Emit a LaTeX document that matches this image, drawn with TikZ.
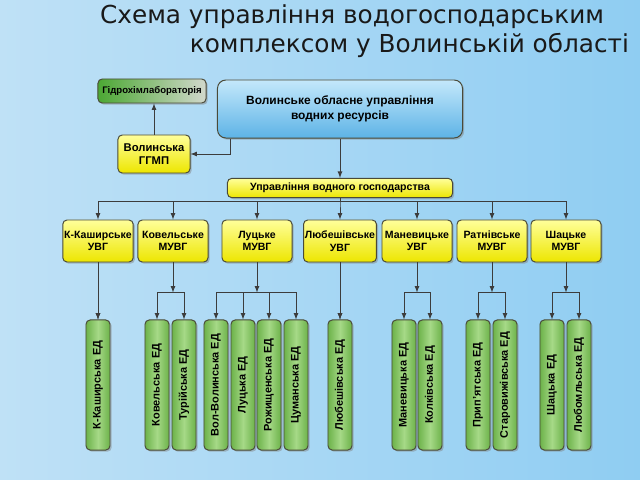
\documentclass[tikz,border=0pt]{standalone}
\usepackage{fontspec}
\setmainfont{Liberation Sans}
\newfontfamily\titlefont{DejaVu Sans}
\usetikzlibrary{calc,shadows}

\definecolor{bgL}{HTML}{BFE1F6}
\definecolor{bgR}{HTML}{8FCDF2}
\definecolor{edge}{HTML}{4A4A38}
\definecolor{arrgray}{HTML}{3C3C3C}
\definecolor{yelTop}{HTML}{FFFF9A}
\definecolor{yelBot}{HTML}{EDE600}
\definecolor{grnLight}{HTML}{A6D987}
\definecolor{grnDark}{HTML}{6CB24A}
\definecolor{bluTop}{HTML}{C4E8FB}
\definecolor{bluBot}{HTML}{5DB3E6}
\definecolor{hidL}{HTML}{4CA834}
\definecolor{hidR}{HTML}{D2D8CC}

\tikzset{
  box/.style={draw=edge, line width=0.7pt, rounded corners=3pt,
    inner sep=1pt, font=\bfseries\fontsize{7.5}{8.8}\selectfont,
    drop shadow={shadow xshift=1.2pt, shadow yshift=-1.2pt, opacity=0.45}},
  uvgbox/.style={box, align=center, top color=yelTop, bottom color=yelBot,
    minimum width=1.75cm, minimum height=1.05cm},
  edbox/.style={box, left color=grnDark, right color=grnDark, middle color=grnLight,
    minimum width=0.6cm, minimum height=3.25cm, font=\bfseries\fontsize{7.8}{9}\selectfont},
  arr/.style={draw=arrgray, line width=0.6pt, -latex},
}

\begin{document}
\begin{tikzpicture}[x=0.025cm,y=-0.025cm]
\useasboundingbox (0,0) rectangle (640,480);
\shade[left color=bgL, middle color=white, right color=bgR] (0,0) rectangle (640,480);

% title
\node[anchor=east, font=\titlefont\fontsize{17.6}{19}\selectfont, text=black!90] (t1) at (609,17) {Схема управління водогосподарським};
\node[anchor=east, font=\titlefont\fontsize{17.6}{19}\selectfont, text=black!90] (t2) at (634,45) {комплексом у Волинській області};

% top part
\node[box, left color=hidL, right color=hidR, minimum width=2.7cm, minimum height=0.6cm,
  font=\bfseries\fontsize{6.8}{8}\selectfont] (hidro) at (152,91) {Гідрохімлабораторія};
\node[box, align=center, top color=bluTop, bottom color=bluBot, rounded corners=6pt, minimum width=6.125cm, minimum height=1.45cm,
  font=\bfseries\fontsize{8.5}{10.5}\selectfont] (main) at (340,109) {Волинське обласне управління\\водних ресурсів};
\node[uvgbox, minimum width=1.8cm, minimum height=0.95cm, font=\bfseries\fontsize{8}{9.5}\selectfont] (ggmp) at (154,154) {Волинська\\ГГМП};
\node[uvgbox, minimum width=5.625cm, minimum height=0.48cm] (upr) at (340,188) {Управління водного господарства};

\draw[arr] (ggmp.north) -- (ggmp.north |- hidro.south);
\draw[arr] ($(main.south west)+(13,0)$) |- (ggmp.east);
\draw[arr] (main.south) -- (upr.north);

% middle row
\foreach \x/\n/\a/\b in {98/m1/К-Каширське/УВГ, 173/m2/Ковельське/МУВГ, 257/m3/Луцьке/МУВГ,
  340/m4/Любешівське/УВГ, 417/m5/Маневицьке/УВГ, 492/m6/Ратнівське/МУВГ, 566/m7/Шацьке/МУВГ} {
  \node[uvgbox] (\n) at (\x,241) {\a\\\b};
  \draw[arr] (upr.south) -- ++(0,3) -| (\n.north);
}

% bottom row
\foreach \x/\n/\p/\txt in {98/e1/m1/К-Каширська ЕД, 157/e2/m2/Ковельська ЕД, 184/e3/m2/Турійська ЕД,
  216/e4/m3/Вол-Волинська ЕД, 243/e5/m3/Луцька ЕД, 269/e6/m3/Рожищенська ЕД, 296/e7/m3/Цуманська ЕД,
  340/e8/m4/Любешівська ЕД, 404/e9/m5/Маневицька ЕД, 430/e10/m5/Колківська ЕД,
  478/e11/m6/Прип’ятська ЕД, 505/e12/m6/Старовижівська ЕД, 552/e13/m7/Шацька ЕД, 579/e14/m7/Любомльська ЕД} {
  \node[edbox] (\n) at (\x,385) {\rotatebox{90}{\txt}};
  \draw[arr] (\p.south) ++(0,30) -| (\n.north);
}
\foreach \p in {m2,m3,m5,m6,m7}
  \draw[arr] (\p.south) -- ++(0,30);
\draw[arr] (m1.south) -- (e1.north);
\draw[arr] (m4.south) -- (e8.north);
\end{tikzpicture}
\end{document}
